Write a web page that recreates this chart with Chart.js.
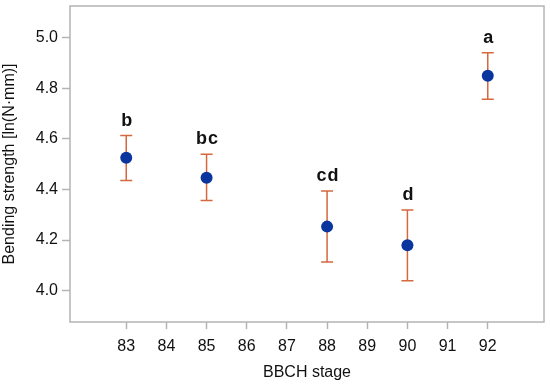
<!DOCTYPE html>
<html>
<head>
<meta charset="utf-8">
<script src="https://cdn.jsdelivr.net/npm/chart.js@4.4.0/dist/chart.umd.min.js"></script>
<style>
  html, body { margin: 0; padding: 0; background: #fff; }
  #wrap { width: 550px; height: 386px; }
</style>
</head>
<body>
<div id="wrap"><canvas id="chart"></canvas></div>
<script>
// Data
const stages = [83, 85, 88, 90, 92];
const means = [4.525, 4.446, 4.253, 4.179, 4.849];
const upper = [4.613, 4.539, 4.394, 4.319, 4.940];
const lower = [4.435, 4.356, 4.113, 4.039, 4.756];
const letters = ['b', 'bc', 'cd', 'd', 'a'];
const xTicks = [83, 84, 85, 86, 87, 88, 89, 90, 91, 92];
const yTicks = [4.0, 4.2, 4.4, 4.6, 4.8, 5.0];

const AXIS_GRAY = '#b4b4b4';
const ERR_COLOR = '#d4683e';
const POINT_COLOR = '#0a349e';
const FONT = 'Liberation Sans, Arial, sans-serif';

// Frame around the plot area
const framePlugin = {
    id: 'frame',
    beforeDatasetsDraw(chart) {
        const { ctx, chartArea: a } = chart;
        ctx.save();
        ctx.strokeStyle = AXIS_GRAY;
        ctx.lineWidth = 1.5;
        ctx.strokeRect(a.left, a.top, a.right - a.left, a.bottom - a.top);
        ctx.restore();
    }
};

// Error bars and significance letters
const errorBarPlugin = {
    id: 'errorBars',
    beforeDatasetsDraw(chart) {
        const { ctx, scales: { x, y } } = chart;
        ctx.save();
        ctx.strokeStyle = ERR_COLOR;
        ctx.lineWidth = 1.5;
        stages.forEach((s, i) => {
            const px = x.getPixelForValue(s);
            const top = y.getPixelForValue(upper[i]);
            const bot = y.getPixelForValue(lower[i]);
            ctx.beginPath();
            ctx.moveTo(px, top);
            ctx.lineTo(px, bot);
            ctx.moveTo(px - 6, top);
            ctx.lineTo(px + 6, top);
            ctx.moveTo(px - 6, bot);
            ctx.lineTo(px + 6, bot);
            ctx.stroke();
        });
        ctx.restore();
    },
    afterDatasetsDraw(chart) {
        const { ctx, scales: { x, y } } = chart;
        ctx.save();
        ctx.fillStyle = '#111';
        ctx.font = 'bold 18px ' + FONT;
        ctx.letterSpacing = '1px';
        ctx.textAlign = 'center';
        ctx.textBaseline = 'alphabetic';
        stages.forEach((s, i) => {
            const px = x.getPixelForValue(s);
            const top = y.getPixelForValue(upper[i]);
            ctx.fillText(letters[i], px + 1, top - 10);
        });
        ctx.restore();
    }
};

new Chart(document.getElementById('chart'), {
    type: 'scatter',
    data: {
        datasets: [{
            data: stages.map((s, i) => ({ x: s, y: means[i] })),
            backgroundColor: POINT_COLOR,
            borderColor: POINT_COLOR,
            pointRadius: 6,
            pointHoverRadius: 6,
            borderWidth: 0
        }]
    },
    options: {
        responsive: true,
        maintainAspectRatio: false,
        animation: false,
        layout: { padding: { top: 5, right: 5, left: 0, bottom: 0 } },
        plugins: {
            legend: { display: false },
            tooltip: { enabled: false }
        },
        scales: {
            x: {
                type: 'linear',
                min: 81.6,
                max: 93.4,
                afterBuildTicks: scale => { scale.ticks = xTicks.map(v => ({ value: v })); },
                afterFit: scale => {
                    scale.height = 64;
                    scale.paddingLeft = 0;
                    scale.paddingRight = 0;
                },
                border: { display: false },
                grid: {
                    drawOnChartArea: false,
                    drawTicks: true,
                    tickLength: 7,
                    tickColor: AXIS_GRAY,
                    tickWidth: 1.5
                },
                ticks: {
                    color: '#111',
                    font: { family: FONT, size: 16 },
                    padding: 8,
                    autoSkip: false,
                    maxRotation: 0
                },
                title: {
                    display: true,
                    text: 'BBCH stage',
                    color: '#111',
                    font: { family: FONT, size: 16 },
                    padding: { top: 0, bottom: 4 }
                }
            },
            y: {
                type: 'linear',
                min: 3.876,
                max: 5.125,
                afterBuildTicks: scale => { scale.ticks = yTicks.map(v => ({ value: v })); },
                afterFit: scale => {
                    scale.width = 70;
                    scale.paddingTop = 0;
                    scale.paddingBottom = 0;
                },
                border: { display: false },
                grid: {
                    drawOnChartArea: false,
                    drawTicks: true,
                    tickLength: 8,
                    tickColor: AXIS_GRAY,
                    tickWidth: 1.5
                },
                ticks: {
                    color: '#111',
                    font: { family: FONT, size: 16 },
                    padding: 4,
                    callback: v => Number(v).toFixed(1)
                },
                title: {
                    display: true,
                    text: 'Bending strength [ln(N·mm)]',
                    color: '#111',
                    font: { family: FONT, size: 16 },
                    padding: { top: 0, bottom: 2 }
                }
            }
        }
    },
    plugins: [framePlugin, errorBarPlugin]
});
</script>
</body>
</html>
